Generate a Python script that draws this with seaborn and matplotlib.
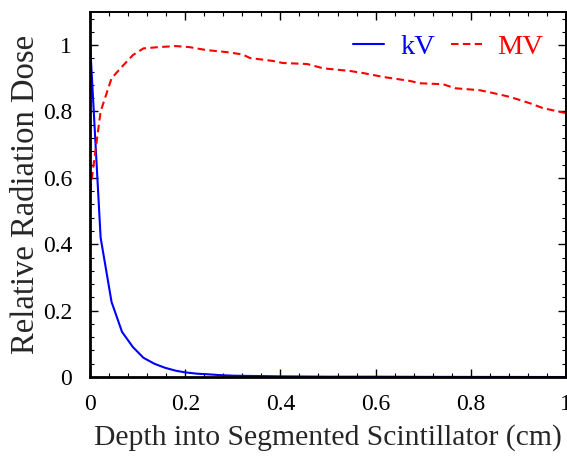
import pandas as pd
import matplotlib.pyplot as plt
import seaborn as sns
from matplotlib.ticker import MultipleLocator

# depth (cm) and relative dose
kv_depth = [0, 0.022, 0.045, 0.067, 0.09, 0.112, 0.135, 0.157, 0.18, 0.2, 0.225,
            0.25, 0.27, 0.3, 0.35, 0.4, 0.5, 0.6, 0.7, 0.8, 0.9, 1.0]
kv_dose = [1.0, 0.42, 0.226, 0.136, 0.09, 0.058, 0.04, 0.028, 0.019, 0.014, 0.01,
           0.008, 0.006, 0.004, 0.003, 0.002, 0.001, 0.001, 0.0005, 0.0003, 0.0002, 0.0]

mv_depth = [0, 0.022, 0.045, 0.067, 0.09, 0.112, 0.145, 0.18, 0.208, 0.244, 0.286,
            0.32, 0.336, 0.385, 0.405, 0.456, 0.49, 0.546, 0.573, 0.616, 0.672,
            0.693, 0.742, 0.767, 0.819, 0.855, 0.882, 0.924, 0.952, 1.0]
mv_dose = [0.56, 0.80, 0.90, 0.935, 0.97, 0.99, 0.994, 0.997, 0.994, 0.985, 0.979,
           0.972, 0.961, 0.952, 0.946, 0.943, 0.93, 0.922, 0.916, 0.904, 0.892,
           0.885, 0.882, 0.870, 0.864, 0.853, 0.844, 0.825, 0.81, 0.795]

kv = pd.DataFrame({'depth': kv_depth, 'dose': kv_dose})
mv = pd.DataFrame({'depth': mv_depth, 'dose': mv_dose})

sns.set_style("ticks")
plt.rcParams['font.family'] = ['Liberation Serif', 'DejaVu Serif']

fig = plt.figure(figsize=(5.67, 4.57), dpi=100)
ax = fig.add_axes([0.159, 0.175, 0.839, 0.799])

sns.lineplot(data=kv, x='depth', y='dose', ax=ax, color='#0000ff', lw=1.5, label='kV')
sns.lineplot(data=mv, x='depth', y='dose', ax=ax, color='#ff0000', lw=1.5,
             label='MV', dashes=False, linestyle=(0, (3.6, 2.1)))

ax.set_xlim(0, 1)
ax.set_ylim(0, 1.1)
ax.xaxis.set_major_locator(MultipleLocator(0.2))
ax.xaxis.set_minor_locator(MultipleLocator(0.04))
ax.yaxis.set_major_locator(MultipleLocator(0.2))
ax.yaxis.set_minor_locator(MultipleLocator(0.04))
ax.xaxis.set_major_formatter(plt.FuncFormatter(lambda v, p: f'{v:g}'))
ax.yaxis.set_major_formatter(plt.FuncFormatter(lambda v, p: f'{v:g}'))
ax.tick_params(which='both', direction='in', top=True, right=True, colors='black',
               labelsize=17)
ax.tick_params(which='major', length=6, width=1)
ax.tick_params(which='minor', length=3, width=0.8)
ax.tick_params(axis='x', which='major', pad=12)
ax.tick_params(axis='y', which='major', pad=13)
for s in ax.spines.values():
    s.set_color('black')
    s.set_linewidth(1.4)
ax.spines['left'].set_linewidth(2)
ax.spines['bottom'].set_linewidth(2)

ax.set_xlabel('Depth into Segmented Scintillator (cm)', fontsize=21.3, labelpad=7)
ax.set_ylabel('Relative Radiation Dose', fontsize=23.5, labelpad=1)

ax.legend(loc='upper right', ncol=2, frameon=False, fontsize=20.5, labelcolor='linecolor',
          handlelength=1.1, handletextpad=0.55, columnspacing=0.55,
          bbox_to_anchor=(0.995, 0.995), borderaxespad=0.3)

fig.savefig('out.png', dpi=100)
